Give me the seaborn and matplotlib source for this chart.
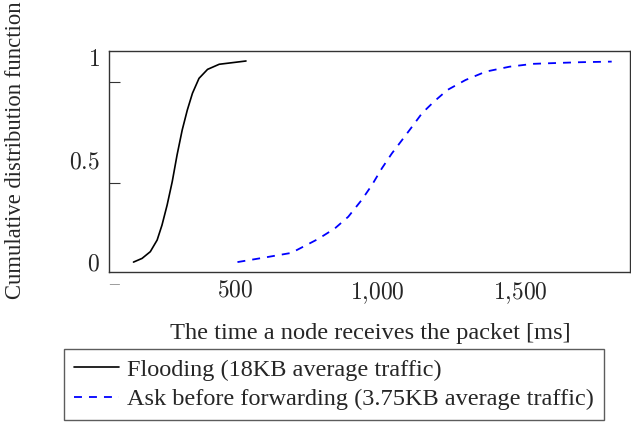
import numpy as np
import pandas as pd
import matplotlib
matplotlib.use("Agg")
import matplotlib.pyplot as plt
import seaborn as sns

# values
flood_t = [143, 173, 202, 226, 243, 261, 279, 296, 314, 332, 350, 373, 403, 444, 538]
flood_cdf = [0.0, 0.018, 0.051, 0.108, 0.181, 0.279, 0.394, 0.525, 0.647, 0.745, 0.827, 0.9, 0.944, 0.969, 0.985]

ask_t = [508, 602, 697, 791, 850, 897, 944, 980, 1015, 1050, 1086, 1121, 1156, 1198,
         1245, 1309, 1380, 1463, 1545, 1604, 1710, 1822]
ask_cdf = [0.0, 0.022, 0.045, 0.113, 0.165, 0.222, 0.304, 0.377, 0.459, 0.532, 0.598, 0.663, 0.729, 0.786,
           0.843, 0.892, 0.933, 0.957, 0.971, 0.974, 0.979, 0.982]

label_flood = "Flooding (18KB average traffic)"
label_ask = "Ask before forwarding (3.75KB average traffic)"

xticks = [500, 1000, 1500]
xtick_labels = [r"$500$", r"$1{,}000$", r"$1{,}500$"]
yticks = [0, 0.5, 1]
ytick_labels = [r"$0$", r"$0.5$", r"$1$"]
ytick_marks = [0.386, 0.88]

sns.set_style("white")
plt.rcParams["font.family"] = ["Liberation Serif", "DejaVu Serif"]
plt.rcParams["mathtext.fontset"] = "cm"

fig = plt.figure(figsize=(6.31, 4.26), dpi=100)
ax = fig.add_axes([0.1732, 0.3608, 0.826, 0.5195])

df_flood = pd.DataFrame({"t": flood_t, "cdf": flood_cdf})
df_ask = pd.DataFrame({"t": ask_t, "cdf": ask_cdf})

sns.lineplot(data=df_flood, x="t", y="cdf", ax=ax, color="black", lw=1.2, label=label_flood)
sns.lineplot(data=df_ask, x="t", y="cdf", ax=ax, color="#0000ff", lw=1.3,
             linestyle=(0, (4.4, 3.9)), label=label_ask)
for ln in ax.get_lines():
    ln.set_solid_joinstyle("round")

ax.set_xlim(58, 1888)
ax.set_ylim(-0.05, 1.034)

ax.set_xticks(xticks)
ax.set_xticklabels(xtick_labels, fontsize=17)
ax.tick_params(axis="x", direction="in", length=7.2, width=0.8, color="#333333", pad=6)

ax.set_yticks(yticks)
ax.set_yticklabels(ytick_labels, fontsize=17)
ax.tick_params(axis="y", which="major", length=0, pad=7)
ax.set_yticks(ytick_marks, minor=True)
ax.tick_params(axis="y", which="minor", direction="in", length=8, width=0.8, color="#333333", left=True)

for s in ax.spines.values():
    s.set_color("#333333")
    s.set_linewidth(1.0)

ax.set_xlabel("The time a node receives the packet [ms]", fontsize=17.6, labelpad=12)
ax.set_ylabel("")
fig.text(16 / 631, 1 - 150 / 426, "Cumulative distribution function", rotation=90,
         ha="center", va="center", fontsize=16.3)
ax.text(0.01, -0.055, "\u2013", transform=ax.transAxes, ha="center", va="center",
        color="gray", fontsize=14)

handles, labels = ax.get_legend_handles_labels()
ax.get_legend().remove()
leg = fig.legend(handles, labels, loc="upper left", bbox_to_anchor=(0.1014, 0.1808),
                 fontsize=17.5, frameon=True, fancybox=False, edgecolor="#333333",
                 borderpad=0.4, labelspacing=0.3, handlelength=1.85, handletextpad=0.35,
                 borderaxespad=0)
leg.get_frame().set_linewidth(1.0)

fig.savefig("out.png", dpi=100)
